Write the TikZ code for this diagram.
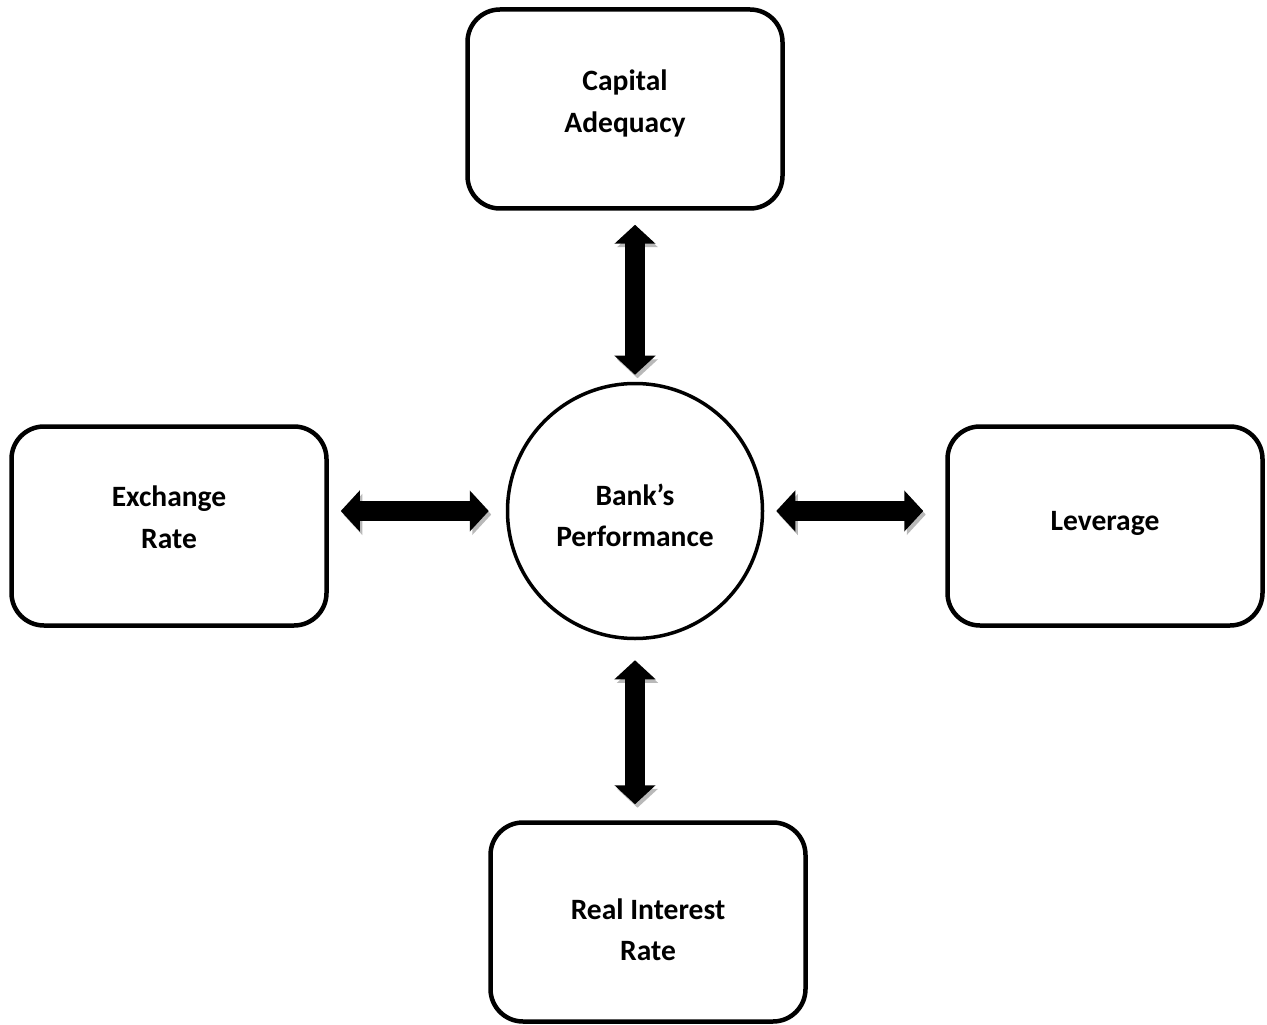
\documentclass[tikz,border=0pt]{standalone}
\usepackage{fontspec}
\setmainfont{Carlito}
\usetikzlibrary{arrows.meta}
\begin{document}
\begin{tikzpicture}[
  factor/.style={draw, line width=0.09cm, rounded corners=0.65cm, minimum width=6.3cm, minimum height=3.98cm, align=center, font=\bfseries\fontsize{16.8}{23.5}\selectfont},
  centre/.style={draw, circle, line width=0.07cm, minimum size=5.1cm, align=center, font=\bfseries\fontsize{16.8}{23.5}\selectfont},
  bigarrow/.style={line width=0.4cm, {Triangle[width=0.8cm,length=0.38cm]}-{Triangle[width=0.8cm,length=0.38cm]},
    preaction={draw=gray!55, transform canvas={xshift=0.05cm, yshift=-0.07cm}}}
]
\useasboundingbox (0,0) rectangle (25.34,-20.5);
\node[centre] (perf) at (12.7,-10.22) {\\[-0.23cm]Bank's\\Performance};
\node[factor] (capital) at (12.5,-2.18) {Capital\\Adequacy\\[-0.51cm]};
\node[factor] (exchange) at (3.38,-10.52) {Exchange\\Rate\\[-0.47cm]};
\node[factor] (leverage) at (22.1,-10.52) {Leverage\\[-0.63cm]};
\node[factor] (realrate) at (12.96,-18.44) {\\[-0.1cm]Real Interest\\ Rate};
\draw[bigarrow, shorten <=0.14cm, shorten >=0.28cm] (perf.north) -- (perf.north |- capital.south);
\draw[bigarrow, shorten <=0.4cm, shorten >=0.32cm] (perf.south) -- (perf.south |- realrate.north);
\draw[bigarrow, shorten <=0.34cm, shorten >=0.24cm] (perf.west) -- (exchange.east |- perf.west);
\draw[bigarrow, shorten <=0.24cm, shorten >=0.44cm] (perf.east) -- (leverage.west |- perf.east);
\end{tikzpicture}
\end{document}
